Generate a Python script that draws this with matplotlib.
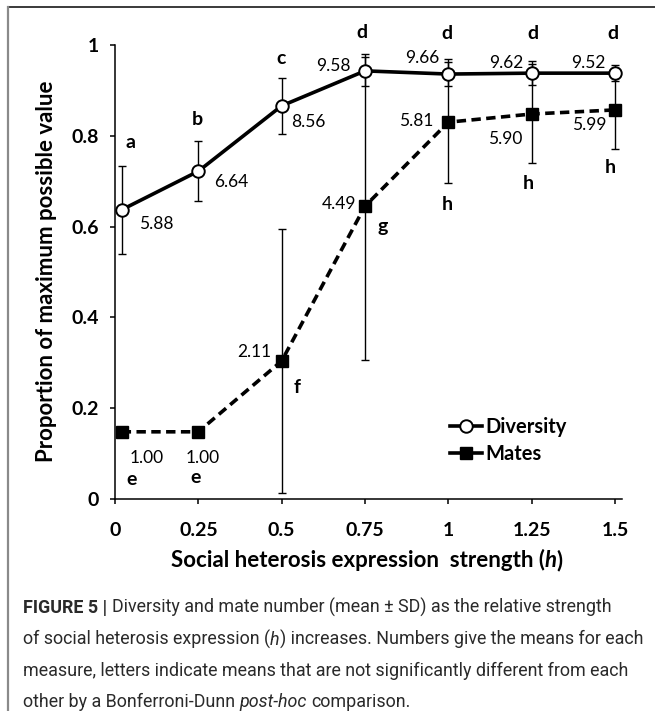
import matplotlib
matplotlib.use("Agg")
import matplotlib.pyplot as plt
from matplotlib.lines import Line2D

# Relative strength of social heterosis expression
h_values = [0.02, 0.25, 0.5, 0.75, 1.0, 1.25, 1.5]
h_ticks = [0, 0.25, 0.5, 0.75, 1.0, 1.25, 1.5]
h_tick_labels = ["0", "0.25", "0.5", "0.75", "1", "1.25", "1.5"]
y_ticks = [0, 0.2, 0.4, 0.6, 0.8, 1.0]
y_tick_labels = ["0", "0.2", "0.4", "0.6", "0.8", "1"]

# Diversity: proportion of maximum, with mean - SD / mean + SD
div_mean = [0.637, 0.722, 0.866, 0.943, 0.936, 0.938, 0.938]
div_low = [0.540, 0.656, 0.804, 0.910, 0.910, 0.912, 0.920]
div_high = [0.733, 0.789, 0.927, 0.974, 0.962, 0.965, 0.956]
div_labels = ["5.88", "6.64", "8.56", "9.58", "9.66", "9.62", "9.52"]
div_letters = ["a", "b", "c", "d", "d", "d", "d"]

# Mates: proportion of maximum, with mean - SD / mean + SD
mates_mean = [0.148, 0.148, 0.304, 0.645, 0.830, 0.848, 0.857]
mates_low = [0.148, 0.148, 0.013, 0.306, 0.696, 0.740, 0.771]
mates_high = [0.148, 0.148, 0.595, 0.980, 0.969, 0.958, 0.946]
mates_labels = ["1.00", "1.00", "2.11", "4.49", "5.81", "5.90", "5.99"]
mates_letters = ["e", "e", "f", "g", "h", "h", "h"]

W, H = 655, 711
FONT = "Lato"
CAP_FONT = "Roboto"

fig = plt.figure(figsize=(W / 100, H / 100), dpi=100)
ax = fig.add_axes([115 / W, 1 - 499 / H, 507 / W, 454 / H])


def yerr(mean, low, high):
    return [[m - l for m, l in zip(mean, low)], [h - m for m, h in zip(mean, high)]]


# error bars first, lines and markers on top
ax.errorbar(h_values, mates_mean, yerr=yerr(mates_mean, mates_low, mates_high),
            fmt="none", ecolor="black", elinewidth=1.0, capsize=2.6, capthick=1.0, zorder=2)
ax.errorbar(h_values, div_mean, yerr=yerr(div_mean, div_low, div_high),
            fmt="none", ecolor="black", elinewidth=1.0, capsize=2.6, capthick=1.0, zorder=2)

ax.plot(h_values, mates_mean, color="black", lw=2.6, linestyle=(0, (2.6, 1.5)),
        marker="s", markersize=9, markerfacecolor="black", markeredgecolor="black",
        zorder=3)
ax.plot(h_values, div_mean, color="black", lw=2.6, marker="o", markersize=9,
        markerfacecolor="white", markeredgecolor="black", markeredgewidth=1.4,
        zorder=4)

# value and letter annotations (offsets in pixels)
div_num_off = [(35, -14), (33, -11), (27, -16), (-32, 5), (-26, 16), (-25, 10), (-27, 10)]
div_let_off = [(9, 67), (-1, 52), (-1, 47), (-3, 38), (-1, 41), (1, 40), (-2, 40)]
mates_num_off = [(25, -26), (4, -26), (-27, 9), (-26, 2), (-32, 1), (-26, -25), (-26, -15)]
mates_let_off = [(10, -48), (-3, -46), (15, -27), (18, -20), (-1, -82), (-3, -69), (-5, -58)]

for xs, ys, labels, offs, weight, size in [
    (h_values, div_mean, div_labels, div_num_off, "normal", 12.5),
    (h_values, div_mean, div_letters, div_let_off, "bold", 14),
    (h_values, mates_mean, mates_labels, mates_num_off, "normal", 12.5),
    (h_values, mates_mean, mates_letters, mates_let_off, "bold", 14),
]:
    for x, y, s, (dx, dy) in zip(xs, ys, labels, offs):
        ax.annotate(s, (x, y), xytext=(dx, dy), textcoords="offset pixels",
                    ha="center", va="center", fontsize=size, fontweight=weight,
                    family=FONT, color="black", zorder=5)

ax.set_xlim(0, 1.521)
ax.set_ylim(0, 1)
ax.set_xticks(h_ticks)
ax.set_xticklabels(h_tick_labels)
ax.set_yticks(y_ticks)
ax.set_yticklabels(y_tick_labels)
for lab in ax.get_xticklabels() + ax.get_yticklabels():
    lab.set_family(FONT)
    lab.set_fontweight("bold")
    lab.set_fontsize(14)
ax.tick_params(axis="x", direction="out", length=3.6, width=1.1, pad=13)
ax.tick_params(axis="y", direction="out", length=3.6, width=1.1, pad=8)
for side in ["top", "right"]:
    ax.spines[side].set_visible(False)
for side in ["left", "bottom"]:
    ax.spines[side].set_linewidth(1.1)

# legend keys drawn with solid line segments
legend_handles = [
    Line2D([], [], color="black", lw=2.6, marker="o", markersize=9,
           markerfacecolor="white", markeredgecolor="black", markeredgewidth=1.4),
    Line2D([], [], color="black", lw=2.6, marker="s", markersize=9,
           markerfacecolor="black", markeredgecolor="black"),
]
ax.legend(legend_handles, ["Diversity", "Mates"], loc="upper left",
          bbox_to_anchor=(0.661, 0.18), frameon=False, borderpad=0, borderaxespad=0,
          handlelength=1.6, handletextpad=0.15, labelspacing=0.35,
          prop={"family": FONT, "weight": "bold", "size": 14.5})

renderer = fig.canvas.get_renderer()


def text_runs(x, y, runs, size, family, color, ha="left"):
    """Draw a line made of differently styled pieces, x/y in pixels from top-left."""
    probe = fig.text(0, 0, "x x", fontsize=size, family=family)
    probe2 = fig.text(0, 0, "xx", fontsize=size, family=family)
    space = (probe.get_window_extent(renderer).width
             - probe2.get_window_extent(renderer).width)
    probe.remove()
    probe2.remove()
    pieces = []
    for s, weight, style in runs:
        lead = len(s) - len(s.lstrip(" "))
        trail = len(s) - len(s.rstrip(" "))
        t = fig.text(0, 1 - y / H, s.strip(" "), fontsize=size, family=family,
                     fontweight=weight, fontstyle=style, color=color, va="baseline")
        w = t.get_window_extent(renderer).width
        pieces.append((t, lead * space, w, trail * space))
    total = sum(a + b + c for _, a, b, c in pieces)
    cx = x - total / 2 if ha == "center" else x
    for t, lead, w, trail in pieces:
        cx += lead
        t.set_x(cx / W)
        cx += w + trail


text_runs(367, 567, [("Social heterosis expression  strength (", "bold", "normal"),
                     ("h", "bold", "italic"), (")", "bold", "normal")],
          16, FONT, "black", ha="center")
fig.text(47 / W, 1 - 271 / H, "Proportion of maximum possible value", rotation=90,
         ha="center", va="center", fontsize=16, fontweight="bold", family=FONT,
         color="black")

cap_color = "#2a2a2a"
cap_size = 12.9
text_runs(23, 613, [("FIGURE 5 |", "bold", "normal"),
                    (" Diversity and mate number (mean \u00b1 SD) as the relative strength",
                     "normal", "normal")], cap_size, CAP_FONT, cap_color)
text_runs(23, 645, [("of social heterosis expression (", "normal", "normal"),
                    ("h", "normal", "italic"),
                    (") increases. Numbers give the means for each", "normal", "normal")],
          cap_size, CAP_FONT, cap_color)
text_runs(23, 676, [("measure, letters indicate means that are not significantly different from each",
                     "normal", "normal")], cap_size, CAP_FONT, cap_color)
text_runs(23, 707, [("other by a Bonferroni-Dunn ", "normal", "normal"),
                    ("post-hoc", "normal", "italic"),
                    (" comparison.", "normal", "normal")], cap_size, CAP_FONT, cap_color)

# panel frame: top rule and left rule
fig.add_artist(Line2D([8 / W, 1], [1 - 7 / H, 1 - 7 / H], transform=fig.transFigure,
                      color="#3a3a3a", lw=1.4))
fig.add_artist(Line2D([8 / W, 8 / W], [0, 1 - 7 / H], transform=fig.transFigure,
                      color="#8a8a8a", lw=1.6))

fig.savefig("out.png", dpi=100)
